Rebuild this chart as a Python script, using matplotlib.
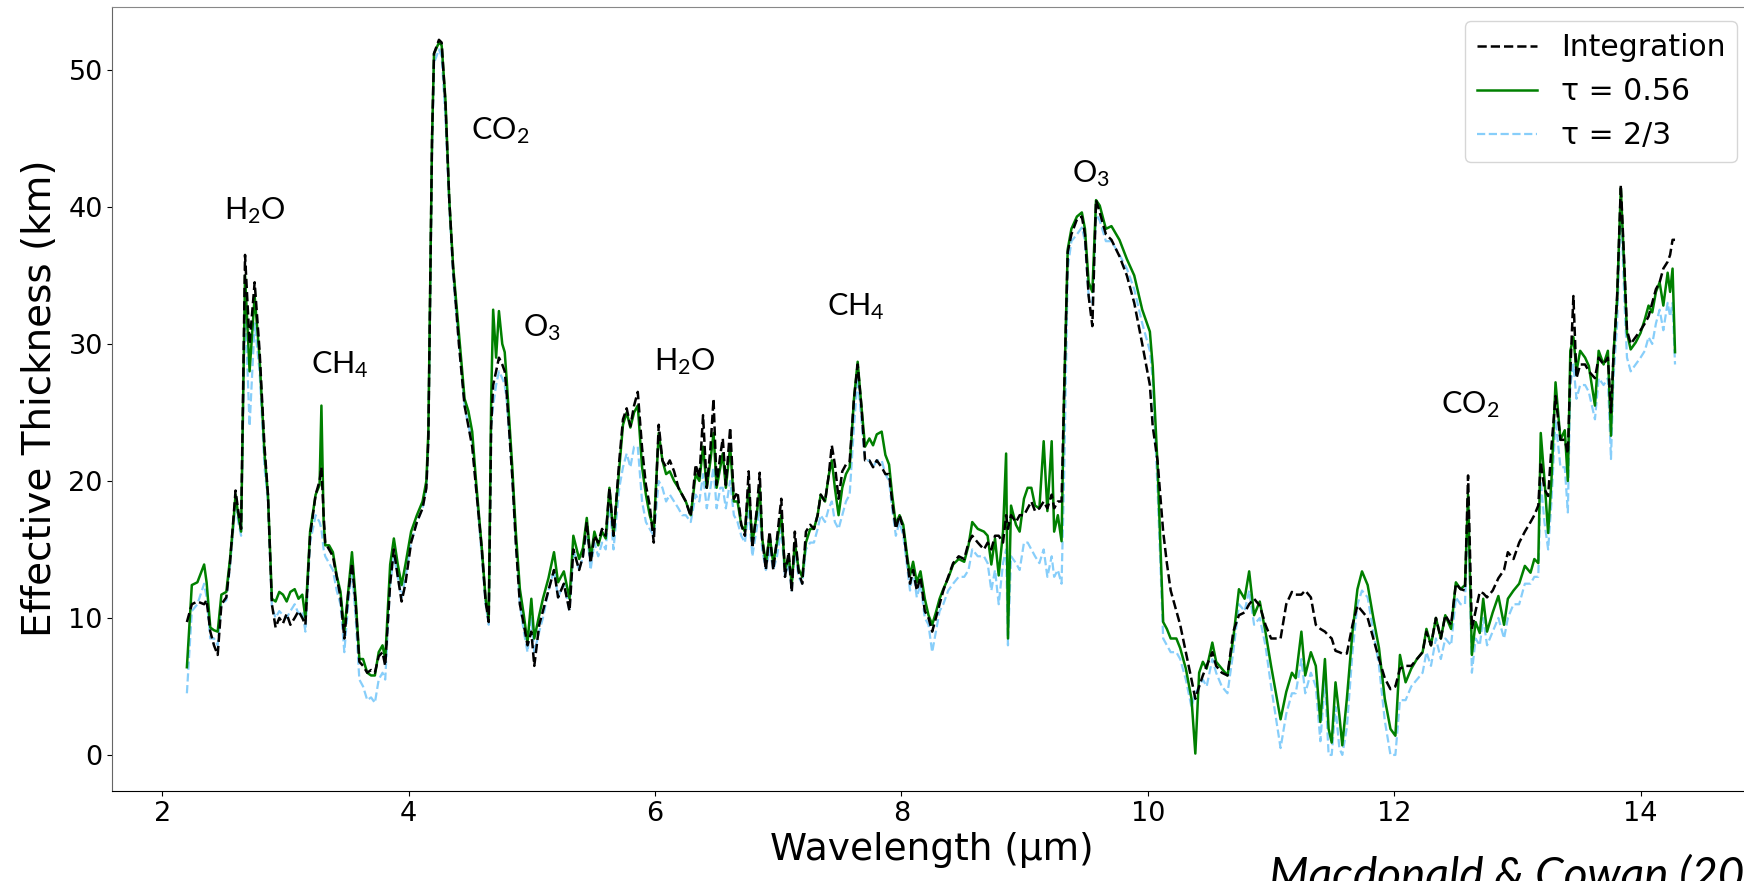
import matplotlib
matplotlib.use('Agg')
import matplotlib.pyplot as plt

# Effective thickness spectrum

# wavelength grid (um)
wavelength = [
    2.20, 2.24, 2.285, 2.34, 2.36, 2.39, 2.42, 2.45, 2.48, 2.52,
    2.55, 2.58, 2.595, 2.617, 2.64, 2.672, 2.709, 2.75, 2.79, 2.83,
    2.858, 2.89, 2.92, 2.95, 2.98, 3.01, 3.04, 3.075, 3.106, 3.137,
    3.162, 3.20, 3.245, 3.277, 3.292, 3.31, 3.323, 3.354, 3.385, 3.416,
    3.447, 3.478, 3.509, 3.54, 3.57, 3.60, 3.63, 3.664, 3.695, 3.726,
    3.757, 3.788, 3.81, 3.85, 3.88, 3.912, 3.943, 3.974, 4.02, 4.067,
    4.113, 4.144, 4.16, 4.19, 4.206, 4.246, 4.268, 4.299, 4.33, 4.361,
    4.408, 4.454, 4.485, 4.516, 4.547, 4.594, 4.625, 4.65, 4.67, 4.686,
    4.71, 4.733, 4.76, 4.78, 4.795, 4.84, 4.87, 4.903, 4.935, 4.965,
    4.996, 5.02, 5.06, 5.09, 5.135, 5.18, 5.213, 5.26, 5.306, 5.337,
    5.384, 5.415, 5.446, 5.477, 5.508, 5.539, 5.57, 5.60, 5.63, 5.663,
    5.71, 5.74, 5.77, 5.80, 5.83, 5.86, 5.895, 5.926, 5.957, 5.99,
    6.03, 6.06, 6.09, 6.12, 6.155, 6.19, 6.22, 6.25, 6.29, 6.33,
    6.36, 6.39, 6.42, 6.45, 6.475, 6.50, 6.53, 6.55, 6.575, 6.61,
    6.64, 6.67, 6.70, 6.73, 6.76, 6.79, 6.825, 6.85, 6.87, 6.90,
    6.93, 6.96, 6.99, 7.025, 7.055, 7.085, 7.11, 7.135, 7.165, 7.195,
    7.225, 7.26, 7.29, 7.32, 7.345, 7.38, 7.41, 7.435, 7.46, 7.49,
    7.52, 7.55, 7.58, 7.615, 7.645, 7.675, 7.705, 7.74, 7.77, 7.80,
    7.84, 7.87, 7.90, 7.925, 7.955, 7.985, 8.015, 8.05, 8.07, 8.095,
    8.125, 8.155, 8.19, 8.22, 8.25, 8.28, 8.31, 8.34, 8.38, 8.42,
    8.465, 8.51, 8.545, 8.575, 8.62, 8.67, 8.70, 8.73, 8.76, 8.79,
    8.825, 8.85, 8.865, 8.89, 8.93, 8.96, 8.995, 9.025, 9.055, 9.085,
    9.12, 9.155, 9.185, 9.22, 9.24, 9.27, 9.30, 9.32, 9.34, 9.35,
    9.38, 9.425, 9.465, 9.49, 9.52, 9.55, 9.58, 9.61, 9.66, 9.705,
    9.77, 9.83, 9.89, 9.955, 10.017, 10.04, 10.079, 10.125, 10.155, 10.186,
    10.232, 10.263, 10.309, 10.355, 10.386, 10.417, 10.447, 10.478, 10.524, 10.555,
    10.601, 10.647, 10.694, 10.74, 10.786, 10.823, 10.863, 10.909, 10.955, 11.001,
    11.078, 11.124, 11.17, 11.201, 11.247, 11.278, 11.324, 11.364, 11.401, 11.438,
    11.468, 11.493, 11.524, 11.555, 11.579, 11.616, 11.662, 11.702, 11.739, 11.785,
    11.831, 11.877, 11.924, 11.97, 12.01, 12.047, 12.093, 12.139, 12.185, 12.231,
    12.262, 12.299, 12.339, 12.379, 12.415, 12.462, 12.501, 12.539, 12.575, 12.60,
    12.631, 12.661, 12.695, 12.723, 12.754, 12.80, 12.846, 12.892, 12.923, 12.969,
    13.015, 13.061, 13.107, 13.138, 13.17, 13.19, 13.22, 13.25, 13.277, 13.31,
    13.35, 13.385, 13.41, 13.43, 13.455, 13.48, 13.51, 13.55, 13.58, 13.63,
    13.66, 13.70, 13.735, 13.76, 13.78, 13.81, 13.84, 13.87, 13.89, 13.92,
    13.96, 14.0, 14.035, 14.065, 14.095, 14.125, 14.155, 14.185, 14.22, 14.24,
    14.26, 14.28,
]

# Integration method (km)
integration = [
    9.7, 11.0, 11.2, 11.0, 11.3, 9.0, 8.0, 7.3, 11.0, 11.5,
    14.0, 17.5, 19.3, 17.8, 16.5, 36.5, 30.0, 34.5, 29.5, 22.5,
    19.0, 11.0, 9.3, 10.0, 9.6, 10.3, 9.5, 10.0, 10.5, 10.0,
    9.5, 16.0, 19.0, 20.0, 21.0, 17.5, 15.5, 15.0, 14.5, 13.0,
    11.5, 8.5, 11.7, 14.0, 11.0, 6.8, 6.5, 6.0, 6.2, 6.0,
    7.2, 7.5, 6.5, 12.5, 15.0, 13.0, 11.2, 12.5, 15.5, 17.0,
    18.0, 19.5, 23.0, 45.0, 51.2, 52.2, 52.0, 47.5, 40.5, 35.5,
    30.0, 25.5, 24.0, 22.5, 19.5, 15.0, 11.2, 9.7, 24.0, 27.0,
    28.0, 29.0, 28.5, 28.0, 26.5, 20.5, 15.5, 11.0, 9.5, 8.0,
    9.0, 6.5, 9.5, 10.5, 12.0, 13.5, 11.5, 12.5, 10.5, 15.0,
    13.5, 14.5, 17.0, 14.0, 16.0, 15.5, 16.5, 16.0, 19.5, 16.0,
    21.5, 24.5, 25.3, 24.0, 25.5, 26.5, 22.4, 19.7, 18.2, 15.5,
    24.1, 21.5, 21.0, 21.5, 20.7, 19.5, 19.0, 18.5, 17.4, 21.2,
    20.2, 24.8, 19.5, 22.4, 26.0, 19.7, 21.9, 23.1, 19.7, 23.9,
    18.7, 19.2, 16.8, 16.0, 20.7, 15.1, 17.8, 20.6, 15.8, 13.5,
    16.3, 13.5, 15.8, 18.7, 13.0, 14.8, 11.9, 16.3, 13.4, 12.5,
    16.3, 16.8, 16.5, 17.5, 19.0, 18.5, 20.4, 22.6, 21.2, 18.7,
    20.7, 21.2, 21.4, 26.0, 28.5, 25.5, 21.5, 21.5, 21.0, 21.5,
    21.0, 20.5, 20.5, 18.5, 16.5, 17.5, 16.5, 14.0, 12.5, 13.5,
    12.0, 13.0, 10.5, 10.0, 9.0, 10.0, 11.0, 12.0, 13.0, 14.0,
    14.5, 14.3, 15.5, 16.0, 15.5, 15.0, 15.5, 15.0, 16.0, 16.0,
    15.5, 17.5, 16.5, 17.5, 17.0, 17.5, 17.5, 18.0, 18.5, 17.8,
    18.0, 18.5, 18.0, 19.0, 18.0, 18.5, 18.5, 26.0, 33.0, 36.7,
    38.0, 39.1, 39.3, 38.0, 33.5, 31.3, 40.5, 39.6, 38.0, 37.6,
    36.4, 35.0, 33.0, 30.0, 27.0, 24.0, 21.5, 16.3, 14.0, 12.0,
    10.5, 9.5, 7.5, 5.5, 4.1, 5.0, 5.8, 6.5, 7.5, 6.5,
    6.0, 5.8, 9.0, 10.2, 10.4, 11.0, 11.4, 10.9, 9.5, 8.5,
    8.5, 11.0, 11.9, 11.7, 11.7, 12.0, 11.5, 9.5, 9.2, 9.0,
    8.7, 8.5, 7.6, 7.5, 7.4, 7.4, 9.5, 10.9, 10.5, 10.0,
    8.5, 7.0, 5.6, 4.8, 5.0, 6.3, 6.5, 6.5, 7.0, 7.5,
    9.0, 8.0, 10.0, 8.5, 10.2, 9.5, 12.5, 12.1, 12.0, 20.4,
    9.2, 10.5, 11.9, 11.8, 11.5, 12.0, 12.9, 13.5, 14.8, 14.3,
    15.5, 16.3, 17.0, 17.5, 18.2, 21.4, 19.4, 18.9, 22.5, 26.2,
    23.0, 23.0, 22.0, 28.0, 33.5, 27.5, 28.5, 28.5, 28.0, 27.5,
    29.0, 28.5, 29.0, 25.0, 29.0, 33.5, 41.6, 35.5, 31.0, 30.0,
    30.5, 31.0, 31.5, 32.0, 33.0, 34.0, 34.5, 35.5, 36.0, 36.5,
    37.6, 37.6,
]

# tau = 0.56 (km)
tau_056 = [
    6.4, 12.4, 12.6, 13.9, 12.6, 9.3, 9.1, 9.0, 11.7, 11.9,
    14.3, 17.3, 19.0, 17.5, 16.3, 35.0, 28.0, 33.5, 29.0, 22.0,
    19.0, 11.4, 11.2, 11.9, 11.7, 11.2, 11.9, 12.1, 11.4, 11.7,
    10.0, 16.3, 19.0, 19.7, 25.5, 17.0, 15.3, 15.3, 14.8, 13.1,
    11.9, 9.0, 11.9, 14.8, 11.4, 7.0, 7.0, 6.0, 5.8, 5.8,
    7.5, 8.0, 7.0, 13.9, 15.8, 13.9, 12.4, 13.9, 16.3, 17.5,
    18.5, 20.0, 23.6, 45.0, 51.2, 52.0, 51.8, 47.8, 40.5, 35.7,
    30.8, 26.0, 25.1, 23.6, 20.0, 15.1, 11.4, 10.0, 26.0, 32.5,
    29.0, 32.4, 30.0, 29.4, 27.5, 21.2, 16.3, 12.1, 10.2, 8.2,
    11.4, 8.5, 10.2, 11.4, 12.9, 14.8, 12.6, 13.4, 11.4, 16.0,
    14.3, 15.1, 17.3, 14.3, 16.3, 15.3, 16.3, 15.8, 19.5, 16.0,
    21.0, 24.1, 25.0, 23.9, 25.0, 25.5, 21.0, 19.0, 17.5, 16.5,
    23.5, 21.5, 20.5, 20.7, 20.0, 19.5, 19.0, 18.5, 17.5, 20.5,
    20.0, 22.5, 19.5, 21.5, 23.5, 19.5, 21.0, 22.0, 19.5, 22.5,
    18.5, 18.5, 16.8, 16.3, 19.5, 15.5, 17.5, 19.5, 15.8, 14.0,
    16.0, 14.0, 15.5, 17.5, 13.5, 14.5, 12.5, 15.5, 13.6, 13.0,
    15.5, 16.5, 16.5, 17.5, 19.0, 18.5, 20.4, 21.5, 19.5, 17.5,
    19.5, 20.5, 21.0, 26.0, 28.7, 25.5, 22.5, 23.1, 22.6, 23.4,
    23.6, 21.9, 21.2, 19.0, 16.8, 17.5, 16.8, 14.3, 13.1, 14.1,
    12.6, 13.4, 11.4, 10.2, 9.5, 10.4, 11.4, 12.1, 12.9, 13.9,
    14.3, 14.1, 15.3, 17.0, 16.5, 16.3, 16.0, 13.9, 15.8, 13.1,
    16.3, 22.0, 8.5, 18.2, 16.8, 16.3, 18.7, 19.5, 19.5, 18.2,
    18.0, 22.9, 17.8, 22.9, 16.3, 17.5, 15.6, 26.0, 33.4, 36.9,
    38.4, 39.3, 39.6, 38.4, 34.5, 33.8, 40.5, 40.1, 38.4, 38.6,
    37.6, 36.2, 35.0, 32.5, 30.9, 28.4, 21.2, 9.7, 9.2, 8.5,
    8.5, 7.8, 6.3, 4.1, 0.1, 6.0, 6.8, 6.3, 8.2, 6.8,
    6.3, 5.8, 8.5, 12.1, 11.4, 13.4, 10.2, 11.2, 9.0, 6.5,
    2.6, 4.6, 6.0, 5.6, 9.0, 5.8, 7.5, 6.5, 2.4, 7.0,
    1.9, 0.9, 5.3, 2.9, 0.7, 4.1, 9.0, 12.1, 13.4, 12.4,
    10.0, 7.8, 4.1, 1.9, 1.4, 7.3, 5.3, 6.3, 7.0, 7.5,
    9.2, 8.0, 10.0, 8.5, 10.2, 9.2, 12.6, 12.1, 12.4, 19.0,
    7.3, 9.7, 8.9, 11.4, 9.0, 10.4, 11.6, 9.5, 11.4, 12.0,
    12.5, 13.8, 13.3, 14.3, 14.0, 23.5, 20.1, 16.2, 20.1, 27.2,
    23.0, 23.7, 20.0, 29.5, 30.5, 28.0, 29.5, 29.0, 28.4, 25.5,
    29.5, 28.5, 29.5, 23.3, 29.2, 33.3, 41.4, 35.0, 30.8, 29.6,
    30.1, 30.8, 31.8, 32.8, 32.3, 33.8, 34.5, 32.8, 35.2, 33.8,
    35.5, 29.4,
]

# tau = 2/3 (km)
tau_23 = [
    4.5, 10.5, 11.0, 12.5, 11.5, 8.5, 8.5, 8.0, 11.0, 11.3,
    13.8, 16.8, 18.5, 17.0, 16.0, 33.0, 24.0, 31.5, 28.0, 21.0,
    18.5, 10.8, 10.0, 10.5, 10.2, 10.0, 10.5, 11.0, 10.3, 10.5,
    9.0, 15.5, 17.5, 17.0, 16.5, 15.0, 14.5, 14.0, 13.5, 12.0,
    11.0, 7.5, 11.0, 13.5, 10.0, 5.5, 5.0, 4.0, 4.2, 3.8,
    5.5, 6.0, 5.5, 12.5, 14.5, 13.0, 11.5, 13.0, 15.5, 17.0,
    18.0, 19.5, 23.0, 44.0, 50.5, 51.5, 51.0, 46.5, 40.0, 35.0,
    30.0, 25.5, 24.0, 23.0, 19.5, 14.5, 11.0, 9.5, 24.0, 25.5,
    27.0, 28.0, 27.5, 27.0, 26.0, 20.5, 15.5, 11.0, 9.0, 7.5,
    10.0, 7.5, 9.0, 10.0, 12.0, 13.5, 11.5, 12.5, 10.5, 15.0,
    13.5, 14.5, 16.5, 13.5, 15.5, 14.5, 15.5, 15.0, 18.5, 15.0,
    19.5, 21.0, 22.0, 21.0, 22.5, 22.5, 18.5, 17.0, 16.5, 16.0,
    20.0, 19.5, 18.5, 19.0, 18.5, 18.0, 17.5, 17.5, 17.0, 19.0,
    18.5, 20.5, 18.0, 19.5, 21.0, 18.0, 19.5, 19.5, 18.0, 20.0,
    17.5, 17.0, 16.0, 15.5, 18.0, 14.5, 16.5, 18.0, 15.0, 13.5,
    15.0, 13.5, 14.5, 16.5, 13.0, 14.0, 12.0, 15.0, 13.0, 12.5,
    15.0, 15.5, 15.5, 16.5, 17.5, 17.0, 18.0, 18.5, 17.0, 16.5,
    17.5, 18.5, 19.0, 24.0, 27.5, 24.5, 21.5, 21.5, 21.0, 21.5,
    21.5, 20.5, 20.0, 18.0, 16.0, 17.0, 16.0, 13.5, 12.0, 13.5,
    11.5, 12.5, 10.0, 9.5, 7.5, 9.0, 10.5, 11.0, 12.0, 12.5,
    13.0, 13.0, 13.5, 15.0, 14.5, 14.5, 14.0, 12.0, 13.5, 11.0,
    14.0, 15.0, 8.0, 14.5, 14.0, 13.5, 15.5, 15.5, 15.0, 14.5,
    14.0, 15.0, 13.0, 14.5, 13.0, 13.5, 12.5, 20.0, 30.0, 35.5,
    37.5, 38.0, 38.5, 37.5, 33.5, 33.0, 39.5, 39.0, 37.5, 37.5,
    36.5, 35.5, 34.0, 31.5, 29.5, 27.5, 19.5, 8.5, 8.0, 7.5,
    7.5, 7.0, 5.5, 3.5, 4.5, 5.0, 5.5, 5.0, 7.0, 6.0,
    5.0, 4.5, 7.5, 11.0, 10.5, 12.0, 9.5, 10.0, 8.0, 5.0,
    0.5, 3.0, 4.5, 4.5, 7.0, 4.5, 6.0, 5.0, 1.0, 5.5,
    0.0, 0.0, 3.5, 0.5, 0.0, 2.0, 7.5, 11.0, 12.0, 11.5,
    9.0, 6.5, 2.5, 0.0, 0.0, 4.0, 4.0, 5.0, 5.5, 6.0,
    7.5, 6.5, 8.5, 7.0, 8.5, 8.0, 11.5, 11.0, 11.0, 18.5,
    6.0, 8.5, 8.0, 10.0, 8.0, 9.0, 10.0, 8.5, 10.0, 11.0,
    11.0, 12.5, 12.5, 13.0, 13.0, 20.0, 17.0, 15.0, 18.5, 24.5,
    21.0, 21.0, 17.7, 27.0, 28.5, 26.0, 27.0, 27.0, 26.5, 24.5,
    27.5, 27.0, 27.5, 21.6, 27.5, 31.5, 40.5, 33.0, 29.0, 28.0,
    28.5, 29.0, 29.5, 30.5, 30.0, 31.5, 32.5, 31.0, 33.0, 32.0,
    33.0, 28.5,
]

# absorption band labels
band_names = ['H$_2$O', 'CH$_4$', 'CO$_2$', 'O$_3$', 'H$_2$O', 'CH$_4$', 'O$_3$', 'CO$_2$']
band_x = [2.75, 3.44, 4.74, 5.08, 6.24, 7.63, 9.54, 12.62]
band_y = [39.7, 28.5, 45.6, 31.2, 28.7, 32.7, 42.4, 25.6]

for name, arr in [('integration', integration), ('tau_056', tau_056), ('tau_23', tau_23)]:
    if len(arr) != len(wavelength):
        raise ValueError(name + ' has ' + str(len(arr)) + ' values, expected ' + str(len(wavelength)))

plt.rcParams['mathtext.fontset'] = 'custom'
plt.rcParams['mathtext.rm'] = 'Lato'
plt.rcParams['mathtext.it'] = 'Lato:italic'

fig = plt.figure(figsize=(17.44, 8.81), dpi=100)
ax = fig.add_axes([0.0645, 0.1022, 0.9401, 0.8904])

blue, = ax.plot(wavelength, tau_23, color='lightskyblue', ls='--', lw=1.6, label='τ = 2/3', zorder=1)
green, = ax.plot(wavelength, tau_056, color='green', lw=1.8, label='τ = 0.56', zorder=2)
black, = ax.plot(wavelength, integration, color='black', ls='--', lw=1.8, label='Integration', zorder=3)

for name, x, y in zip(band_names, band_x, band_y):
    ax.text(x, y, name, fontsize=22, family='Lato', ha='center', va='center')

ax.set_xlim(1.596, 14.905)
ax.set_ylim(-2.63, 54.63)
ax.set_xticks([2, 4, 6, 8, 10, 12, 14])
ax.set_yticks([0, 10, 20, 30, 40, 50])
ax.tick_params(labelsize=19.5)
ax.set_xlabel('Wavelength (µm)', fontsize=27)
ax.set_ylabel('Effective Thickness (km)', fontsize=28, labelpad=7)

ax.spines['left'].set_color('#666666')
ax.spines['top'].set_color('#888888')

ax.legend(handles=[black, green, blue], loc='upper right', fontsize=21.5)

# source note, cut off by the right and bottom edges as in the original
fig.text(1269 / 1744, 1 - 889 / 881, 'Macdonald & Cowan (2019)', fontsize=33,
         family='Lato', style='italic', ha='left', va='baseline')

fig.savefig('out.png', dpi=100)
